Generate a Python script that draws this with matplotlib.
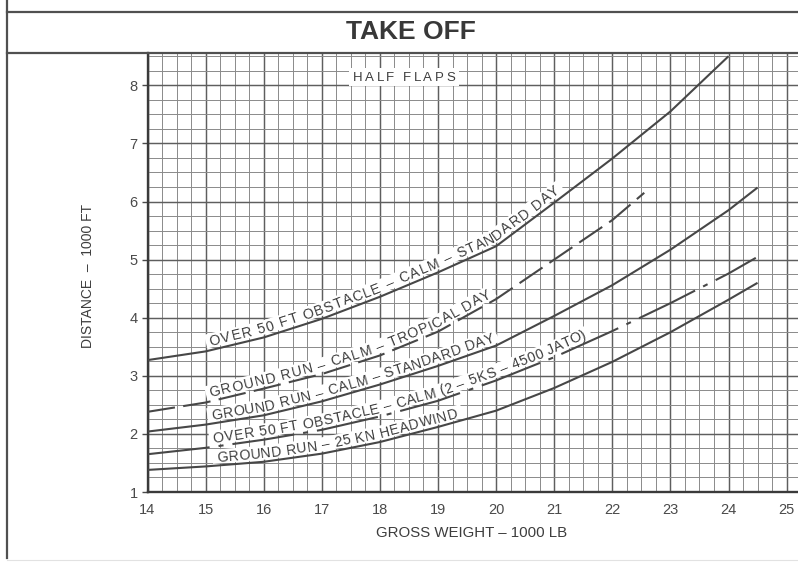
import numpy as np
import matplotlib
matplotlib.use("Agg")
import matplotlib.pyplot as plt
from matplotlib.font_manager import FontProperties
from matplotlib.lines import Line2D
from matplotlib.patches import Rectangle
from matplotlib.ticker import MultipleLocator

plt.rcParams["lines.scale_dashes"] = False

# ---- data: gross weight (1000 lb) vs take-off distance (1000 ft) ----
obst_std_x = [14, 15, 16, 17, 18, 19, 20, 21, 22, 23, 24]
obst_std_y = [3.27, 3.42, 3.66, 3.98, 4.36, 4.78, 5.23, 5.98, 6.74, 7.55, 8.50]

gr_trop_x = [14, 15, 16, 17, 18, 19, 20, 21, 22, 22.55]
gr_trop_y = [2.38, 2.54, 2.78, 3.03, 3.35, 3.76, 4.32, 5.00, 5.68, 6.15]

gr_std_x = [14, 15, 16, 17, 18, 19, 20, 21, 22, 23, 24, 24.5]
gr_std_y = [2.04, 2.16, 2.32, 2.56, 2.85, 3.17, 3.52, 4.03, 4.56, 5.17, 5.85, 6.24]

obst_jato_x = [14, 15, 16, 17, 18, 19, 20, 21, 22, 23, 24, 24.47]
obst_jato_y = [1.65, 1.76, 1.90, 2.07, 2.30, 2.57, 2.92, 3.32, 3.77, 4.25, 4.76, 5.03]

gr_wind_x = [14, 15, 16, 17, 18, 19, 20, 21, 22, 23, 24, 24.5]
gr_wind_y = [1.38, 1.44, 1.52, 1.66, 1.86, 2.12, 2.40, 2.79, 3.24, 3.75, 4.31, 4.60]

curve_labels = [
    "OVER 50 FT OBSTACLE \u2013 CALM \u2013 STANDARD DAY",
    "GROUND RUN \u2013 CALM \u2013 TROPICAL DAY",
    "GROUND RUN \u2013 CALM \u2013 STANDARD DAY",
    "OVER 50 FT OBSTACLE \u2013 CALM (2 \u2013 5KS \u2013 4500 JATO)",
    "GROUND RUN \u2013 25 KN HEADWIND",
]
x_ticks = [14, 15, 16, 17, 18, 19, 20, 21, 22, 23, 24, 25]
y_ticks = [1, 2, 3, 4, 5, 6, 7, 8]

# ---- layout ----
W, H, DPI = 798, 562, 100
INK = "#474747"
TXT = "#3d3d3d"
FONT = "Liberation Sans"

fig = plt.figure(figsize=(W / DPI, H / DPI), dpi=DPI)
fig.patch.set_facecolor("white")

ax_left, ax_top, ax_bot = 147.5, 53, 492
px_per_unit = 58.1
ax = fig.add_axes([ax_left / W, (H - ax_bot) / H, (W - ax_left) / W, (ax_bot - ax_top) / H])
ax.set_xlim(14, 14 + (W - ax_left) / px_per_unit)
ax.set_ylim(1, 1 + (ax_bot - ax_top) / px_per_unit)

ax.xaxis.set_major_locator(MultipleLocator(1))
ax.xaxis.set_minor_locator(MultipleLocator(0.25))
ax.yaxis.set_major_locator(MultipleLocator(1))
ax.yaxis.set_minor_locator(MultipleLocator(0.25))
ax.set_xticks(x_ticks)
ax.set_yticks(y_ticks)
ax.set_xticklabels([str(v) for v in x_ticks])
ax.set_yticklabels([str(v) for v in y_ticks])
ax.grid(which="major", color="#5e5e5e", lw=1.05, zorder=0.5)
ax.grid(which="minor", color="#8a8a8a", lw=0.7, zorder=0.5)
ax.set_axisbelow(True)

for side in ("top", "right"):
    ax.spines[side].set_visible(False)
for side in ("left", "bottom"):
    ax.spines[side].set_color("#3a3a3a")
    ax.spines[side].set_linewidth(1.7)

ax.tick_params(axis="x", which="both", length=0, pad=8, labelsize=10.5, labelcolor="#4a4a4a")
ax.tick_params(axis="y", which="major", length=4.5, width=1.0, color="#4a4a4a",
               pad=2.5, labelsize=10.5, labelcolor="#4a4a4a")
ax.tick_params(axis="y", which="minor", length=0)
for lab in ax.get_xticklabels() + ax.get_yticklabels():
    lab.set_family(FONT)

# ---- curves ----
curve_kw = dict(color=INK, lw=1.5, zorder=3, solid_capstyle="butt", dash_capstyle="butt",
                solid_joinstyle="round")
ax.plot(obst_std_x, obst_std_y, **curve_kw)
ax.plot(gr_trop_x, gr_trop_y, dashes=(20, 6), **curve_kw)
ax.plot(gr_std_x, gr_std_y, **curve_kw)
ax.plot(obst_jato_x, obst_jato_y, dashes=(45, 6.5, 3.6, 6.5), **curve_kw)
ax.plot(gr_wind_x, gr_wind_y, **curve_kw)

renderer = fig.canvas.get_renderer()
label_prop = FontProperties(family=FONT, size=10.2)


def advances(text, prop):
    base = renderer.get_text_width_height_descent("HH", prop, ismath=False)[0]
    return [renderer.get_text_width_height_descent("H" + text[:i] + "H", prop, ismath=False)[0] - base
            for i in range(len(text) + 1)]


def text_along(xs, ys, text, x_start, x_end, offset, prop, cap=10.0):
    """Lay out text letter by letter along a curve, sitting `offset` px above it."""
    pts = ax.transData.transform(np.column_stack([xs, ys]))
    s = np.concatenate([[0], np.cumsum(np.hypot(*np.diff(pts, axis=0).T))])

    def at(si):
        return np.interp(si, s, pts[:, 0]), np.interp(si, s, pts[:, 1])

    def angle(si):
        xa, ya = at(si - 9)
        xb, yb = at(si + 9)
        return np.arctan2(yb - ya, xb - xa)

    def s_of(xd):
        px = ax.transData.transform((xd, 1))[0]
        return np.interp(px, pts[:, 0], s)

    s0, s1 = s_of(x_start), s_of(x_end)
    lefts = advances(text, prop)
    n = len(text)
    track = (s1 - s0 - lefts[-1]) / (n - 1)
    inv = ax.transData.inverted()

    # white band behind the lettering
    band = []
    for si in np.arange(s0 - 4, s1 + 6, 2.0):
        a = angle(si)
        cx, cy = at(si)
        d = offset + cap / 2
        band.append(inv.transform((cx - np.sin(a) * d, cy + np.cos(a) * d)))
    band = np.array(band)
    ax.plot(band[:, 0], band[:, 1], color="white", lw=(cap + 4) * 0.72,
            solid_capstyle="butt", zorder=2)

    for i, ch in enumerate(text):
        if ch == " ":
            continue
        cw = lefts[i + 1] - lefts[i]
        sc = s0 + lefts[i] + i * track + cw / 2
        a = angle(sc)
        cx, cy = at(sc)
        px, py = cx - np.sin(a) * offset, cy + np.cos(a) * offset
        dx, dy = inv.transform((px, py))
        ax.text(dx, dy, ch, rotation=np.degrees(a), rotation_mode="anchor",
                ha="center", va="baseline", fontproperties=prop, color=TXT, zorder=5)


text_along(obst_std_x, obst_std_y, curve_labels[0], 15.1, 21.15, 4.5, label_prop)
text_along(gr_trop_x, gr_trop_y, curve_labels[1], 15.1, 19.95, 4.0, label_prop)
text_along(gr_std_x, gr_std_y, curve_labels[2], 15.12, 20.0, 4.0, label_prop)
text_along(obst_jato_x, obst_jato_y, curve_labels[3], 15.15, 21.6, 4.0, label_prop)
text_along(gr_wind_x, gr_wind_y, curve_labels[4], 15.2, 19.37, 4.0, label_prop)

# ---- "HALF FLAPS" note with white backing ----
fig.patches.append(Rectangle((349 / W, 1 - 86 / H), 110 / W, 18 / H, transform=fig.transFigure,
                             facecolor="white", edgecolor="none", zorder=3))
hf = "HALF FLAPS"
hf_prop = FontProperties(family=FONT, size=9.5)
hf_l = advances(hf, hf_prop)
hf_track = (102 - hf_l[-1]) / (len(hf) - 1)
for i, ch in enumerate(hf):
    if ch == " ":
        continue
    cx = 353 + hf_l[i] + i * hf_track + (hf_l[i + 1] - hf_l[i]) / 2
    fig.text(cx / W, 1 - 81 / H, ch, ha="center", va="baseline",
             fontproperties=hf_prop, color=TXT, zorder=4)

# ---- frame, title and axis captions ----
frame_kw = dict(transform=fig.transFigure, color="#505050", lw=1.6)
fig.lines.append(Line2D([7 / W, 7 / W], [1, 1 - 558 / H], **frame_kw))
fig.lines.append(Line2D([7 / W, 1], [1 - 12 / H, 1 - 12 / H], **frame_kw))
fig.lines.append(Line2D([7 / W, 1], [1 - 53 / H, 1 - 53 / H], **frame_kw))
fig.lines.append(Line2D([7 / W, 1], [1 - 560 / H, 1 - 560 / H], transform=fig.transFigure,
                        color="#e2e2e2", lw=0.8))

fig.text(411 / W, 1 - 32 / H, "TAKE OFF", ha="center", va="center", family=FONT,
         fontsize=19, fontweight="bold", color="#383838")
fig.text(472 / W, 1 - 533 / H, "GROSS WEIGHT \u2013 1000 LB", ha="center", va="center",
         family=FONT, fontsize=10.8, color=TXT)
fig.text(88 / W, 1 - 276 / H, "DISTANCE  \u2013  1000 FT", ha="center", va="center",
         rotation=90, family=FONT, fontsize=10, color=TXT)

fig.savefig("out.png", dpi=DPI)
